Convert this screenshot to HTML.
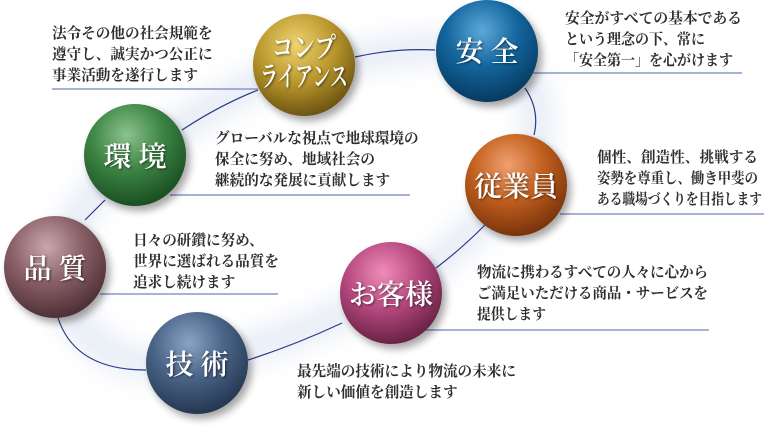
<!DOCTYPE html>
<html><head><meta charset="utf-8"><style>
body{margin:0;background:#fff;}
svg{display:block}
.t{font-family:"Liberation Serif","Noto Serif CJK JP","Noto Serif CJK SC",serif;font-weight:bold;font-size:14.6px;fill:#2e2e2e;}
.s{font-family:"Liberation Serif","Noto Serif CJK JP","Noto Serif CJK SC",serif;fill:#fff;font-size:28px;text-anchor:middle;font-weight:600;}
</style></head><body>
<svg width="764" height="430" viewBox="0 0 764 430">
<defs>
<filter id="blur" x="-50%" y="-50%" width="200%" height="200%"><feGaussianBlur stdDeviation="14"/></filter>
<filter id="sh" x="-50%" y="-50%" width="200%" height="200%"><feGaussianBlur stdDeviation="4"/></filter>
<filter id="ts"><feDropShadow dx="1" dy="1" stdDeviation="1.2" flood-color="#000" flood-opacity="0.6"/></filter>
<radialGradient id="g1" cx="42%" cy="30%" r="70%"><stop offset="0" stop-color="#f0d470"/><stop offset="0.55" stop-color="#b8962c"/><stop offset="1" stop-color="#6e5512"/></radialGradient>
<radialGradient id="g2" cx="45%" cy="30%" r="70%"><stop offset="0" stop-color="#5ea8d8"/><stop offset="0.5" stop-color="#13669e"/><stop offset="1" stop-color="#073a62"/></radialGradient>
<radialGradient id="g3" cx="42%" cy="30%" r="70%"><stop offset="0" stop-color="#8cc28c"/><stop offset="0.5" stop-color="#3d8545"/><stop offset="1" stop-color="#1a4f22"/></radialGradient>
<radialGradient id="g4" cx="42%" cy="30%" r="70%"><stop offset="0" stop-color="#f0a070"/><stop offset="0.5" stop-color="#c2601e"/><stop offset="1" stop-color="#7a340c"/></radialGradient>
<radialGradient id="g5" cx="42%" cy="30%" r="70%"><stop offset="0" stop-color="#c8a8ac"/><stop offset="0.5" stop-color="#8a6068"/><stop offset="1" stop-color="#4e3036"/></radialGradient>
<radialGradient id="g6" cx="42%" cy="30%" r="70%"><stop offset="0" stop-color="#f08cb8"/><stop offset="0.5" stop-color="#b84a80"/><stop offset="1" stop-color="#6a2246"/></radialGradient>
<radialGradient id="g7" cx="42%" cy="30%" r="70%"><stop offset="0" stop-color="#8aa4c4"/><stop offset="0.5" stop-color="#4a6488"/><stop offset="1" stop-color="#253852"/></radialGradient>
</defs>
<g filter="url(#blur)" opacity="0.35">
<path d="M304,65 C380,55 440,40 487,52 C560,80 540,150 516,185 C480,230 430,270 391,293 C330,320 260,350 197,363 C120,380 60,330 55,267 C70,220 100,180 135,155 C190,120 250,80 304,65 Z" fill="none" stroke="#9fb4d8" stroke-width="22"/>
</g>
<g stroke="#8a98c8" stroke-width="1.5">
<line x1="52" y1="89" x2="258" y2="89"/>
<line x1="170" y1="195" x2="410" y2="195"/>
<line x1="533" y1="73" x2="742" y2="73"/>
<line x1="560" y1="214" x2="764" y2="214"/>
<line x1="100" y1="294" x2="278" y2="294"/>
<line x1="425" y1="330" x2="709" y2="330"/>
</g>
<g fill="none" stroke="#2a3c8a" stroke-width="1.2">
<path d="M355,57 Q395,48 435,50"/>
<path d="M525,88 Q540,110 534,135"/>
<path d="M485,225 Q460,250 436,268"/>
<path d="M342,323 Q295,345 248,360"/>
<path d="M146,370 Q75,370 58,318"/>
<path d="M85,220 L105,200"/>
<path d="M182,130 Q220,105 258,90"/>
</g>
<g filter="url(#sh)" fill="#000" opacity="0.35">
<circle cx="308" cy="70" r="51"/><circle cx="491" cy="56" r="51"/><circle cx="139" cy="160" r="51"/>
<circle cx="520" cy="190" r="51"/><circle cx="59" cy="272" r="51"/><circle cx="395" cy="298" r="51"/><circle cx="201" cy="368" r="51"/>
</g>
<circle cx="304" cy="65" r="51" fill="url(#g1)"/>
<circle cx="487" cy="51" r="51" fill="url(#g2)"/>
<circle cx="135" cy="155" r="51" fill="url(#g3)"/>
<circle cx="516" cy="185" r="51" fill="url(#g4)"/>
<circle cx="55" cy="267" r="51" fill="url(#g5)"/>
<circle cx="391" cy="293" r="51" fill="url(#g6)"/>
<circle cx="197" cy="363" r="51" fill="url(#g7)"/>
<g filter="url(#ts)">
<text class="s" x="304" y="57" font-size="25" textLength="64" lengthAdjust="spacingAndGlyphs">コンプ</text>
<text class="s" x="304" y="86" font-size="25" textLength="88" lengthAdjust="spacingAndGlyphs">ライアンス</text>
<text class="s" x="487" y="61">安 全</text>
<text class="s" x="135" y="166">環 境</text>
<text class="s" x="516" y="196">従業員</text>
<text class="s" x="55" y="278">品 質</text>
<text class="s" x="391" y="304">お客様</text>
<text class="s" x="197" y="374">技 術</text>
</g>
<text class="t" x="52" y="38">法令その他の社会規範を</text>
<text class="t" x="52" y="59">遵守し、誠実かつ公正に</text>
<text class="t" x="52" y="80">事業活動を遂行します</text>
<text class="t" x="215" y="143">グローバルな視点で地球環境の</text>
<text class="t" x="215" y="164">保全に努め、地域社会の</text>
<text class="t" x="215" y="185">継続的な発展に貢献します</text>
<text class="t" x="565" y="23" textLength="177" lengthAdjust="spacingAndGlyphs">安全がすべての基本である</text>
<text class="t" x="565" y="44" textLength="140" lengthAdjust="spacingAndGlyphs">という理念の下、常に</text>
<text class="t" x="565" y="65" textLength="168" lengthAdjust="spacingAndGlyphs">「安全第一」を心がけます</text>
<text class="t" x="597" y="162" textLength="161" lengthAdjust="spacingAndGlyphs">個性、創造性、挑戦する</text>
<text class="t" x="597" y="183" textLength="161" lengthAdjust="spacingAndGlyphs">姿勢を尊重し、働き甲斐の</text>
<text class="t" x="597" y="204" textLength="165" lengthAdjust="spacingAndGlyphs">ある職場づくりを目指します</text>
<text class="t" x="133" y="245">日々の研鑽に努め、</text>
<text class="t" x="133" y="266">世界に選ばれる品質を</text>
<text class="t" x="133" y="287">追求し続けます</text>
<text class="t" x="477" y="277" textLength="231" lengthAdjust="spacingAndGlyphs">物流に携わるすべての人々に心から</text>
<text class="t" x="477" y="298" textLength="231" lengthAdjust="spacingAndGlyphs">ご満足いただける商品・サービスを</text>
<text class="t" x="477" y="319" textLength="69" lengthAdjust="spacingAndGlyphs">提供します</text>
<text class="t" x="297" y="376">最先端の技術により物流の未来に</text>
<text class="t" x="297" y="397">新しい価値を創造します</text>
</svg>
</body></html>
